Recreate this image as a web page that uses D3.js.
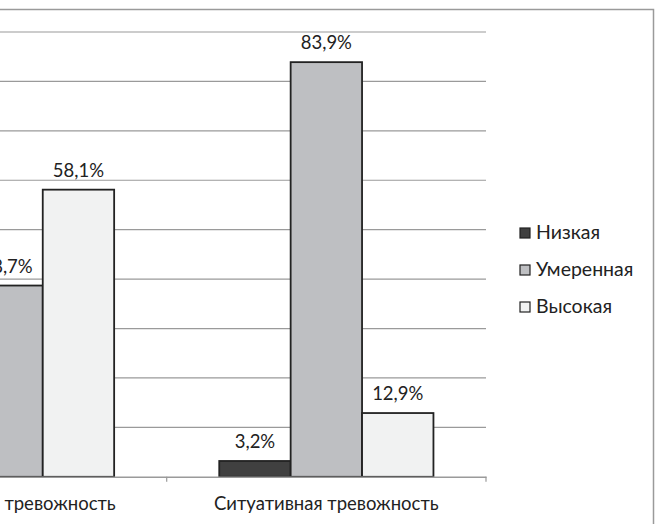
<!DOCTYPE html>
<html><head><meta charset="utf-8">
<script src="https://cdn.jsdelivr.net/npm/d3@7"></script>
<style>body{margin:0;background:#fff}svg{display:block}text{font-family:Lato,sans-serif;fill:#222}</style>
</head><body><svg id="c" width="657" height="524"></svg>
<script>
const categories = ["Личностная тревожность", "Ситуативная тревожность"];
const seriesNames = ["Низкая", "Умеренная", "Высокая"];
const low = [3.2, 3.2];
const moderate = [38.7, 83.9];
const high = [58.1, 12.9];
const yTicks = [0,10,20,30,40,50,60,70,80,90];
const colors = ["#404040", "#bebfc2", "#f1f2f2"];

const FS = 18.5;
const svg = d3.select("#c");
const pLeft = -152.6, pRight = 486, pTop = 32, pBottom = 476.8;
const x0 = d3.scaleBand().domain(categories).range([pLeft, pRight]).padding(0);
const x1 = d3.scaleBand().domain(seriesNames).range([0, x0.bandwidth()]).paddingInner(0).paddingOuter(0.736);
const y = d3.scaleLinear().domain([0, 90]).range([pBottom, pTop]);

// border
svg.append("path").attr("d", `M-10,9.5H653.5V530`).attr("fill","none").attr("stroke","#9a9a9a").attr("stroke-width",1.5);

// gridlines
svg.append("g").selectAll("line").data(yTicks.filter(d=>d>0)).join("line")
  .attr("x1", pLeft).attr("x2", pRight).attr("y1", d=>y(d)).attr("y2", d=>y(d))
  .attr("stroke","#9a9a9a").attr("stroke-width",1.2);

const data = categories.map((c,i)=>({cat:c, vals:[low[i], moderate[i], high[i]]}));
const g = svg.append("g").selectAll("g").data(data).join("g").attr("transform", d=>`translate(${x0(d.cat)},0)`);
g.selectAll("rect").data(d=>d.vals.map((v,j)=>({v, s:seriesNames[j], j}))).join("rect")
  .attr("x", d=>x1(d.s)).attr("width", x1.bandwidth())
  .attr("y", d=>y(d.v)).attr("height", d=>pBottom - y(d.v))
  .attr("fill", d=>colors[d.j]).attr("stroke","#222").attr("stroke-width",1.8);
g.selectAll("text").data(d=>d.vals.map((v,j)=>({v, s:seriesNames[j]}))).join("text")
  .attr("x", d=>x1(d.s)+x1.bandwidth()/2).attr("y", d=>y(d.v)-13)
  .attr("text-anchor","middle").attr("font-size",FS)
  .text(d=>d.v.toFixed(1).replace(".", ",")+"%");

// x axis
const xAxis = d3.axisBottom(x0).tickSize(0).tickFormat(d=>d);
const ax = svg.append("g").attr("transform",`translate(0,${pBottom})`).call(xAxis);
ax.select(".domain").attr("stroke","#9a9a9a").attr("stroke-width",1.5);
ax.selectAll("text").attr("font-size",FS).attr("dy",0).attr("y",33).attr("font-family","Lato,sans-serif").attr("fill","#222");
svg.append("g").selectAll("line").data([pLeft, ...categories.map(c=>x0(c)+x0.bandwidth())]).join("line")
  .attr("x1",d=>d).attr("x2",d=>d).attr("y1",pBottom).attr("y2",pBottom+5)
  .attr("stroke","#9a9a9a").attr("stroke-width",1.2);

// legend
const lg = svg.append("g").selectAll("g").data(seriesNames).join("g")
  .attr("transform",(d,i)=>`translate(520,${228+i*37})`);
lg.append("rect").attr("width",10).attr("height",10).attr("fill",(d,i)=>colors[i]).attr("stroke","#222").attr("stroke-width",1.2);
lg.append("text").attr("x",16).attr("y",11).attr("font-size",19.5).text(d=>d);
</script></body></html>
